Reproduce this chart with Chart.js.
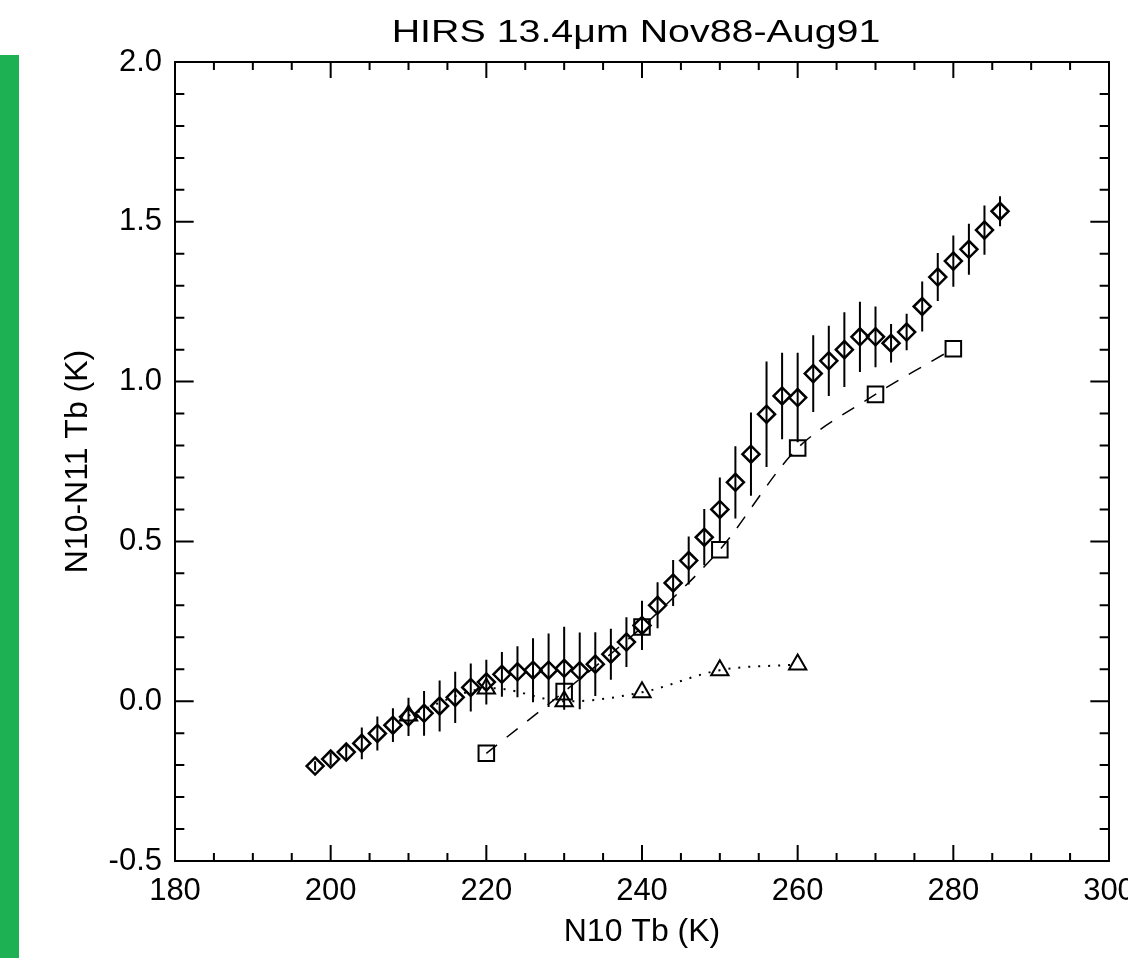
<!DOCTYPE html>
<html>
<head>
<meta charset="utf-8">
<script src="https://cdn.jsdelivr.net/npm/chart.js@4.4.0/dist/chart.umd.min.js"></script>
<style>
  html, body { margin: 0; padding: 0; background: #fff; overflow: hidden; }
  #wrap { position: absolute; left: 0; top: 0; width: 1160px; height: 958px; }
  #faixa { position: absolute; left: 0; top: 55px; width: 19px; height: 903px; background: #1db154; }
</style>
</head>
<body>
<div id="wrap"><canvas id="grafico"></canvas></div>
<div id="faixa"></div>
<script>
// N10 Tb (K) e diferença N10-N11 com barra de erro (losangos)
const temperaturas = [198, 200, 202, 204, 206, 208, 210, 212, 214, 216, 218, 220, 222, 224, 226, 228, 230, 232, 234, 236, 238, 240,
  242, 244, 246, 248, 250, 252, 254, 256, 258, 260, 262, 264, 266, 268, 270, 272, 274, 276, 278, 280, 282, 284, 286];
const diferencas = [-0.203, -0.181, -0.159, -0.132, -0.101, -0.075, -0.049, -0.038, -0.015, 0.012, 0.043, 0.060, 0.084, 0.092,
  0.097, 0.097, 0.103, 0.095, 0.116, 0.147, 0.185, 0.237, 0.300, 0.370, 0.440, 0.513, 0.600, 0.685, 0.773, 0.898, 0.955, 0.950,
  1.025, 1.065, 1.100, 1.140, 1.140, 1.120, 1.155, 1.235, 1.327, 1.377, 1.414, 1.474, 1.533];
const erros = [0.015, 0.020, 0.025, 0.050, 0.053, 0.053, 0.060, 0.070, 0.080, 0.080, 0.075, 0.070, 0.070, 0.080, 0.100, 0.115,
  0.130, 0.120, 0.100, 0.080, 0.078, 0.077, 0.072, 0.072, 0.075, 0.088, 0.100, 0.113, 0.130, 0.165, 0.135, 0.140, 0.120, 0.110,
  0.117, 0.110, 0.095, 0.060, 0.057, 0.078, 0.075, 0.080, 0.080, 0.077, 0.047];

// quadrados (tracejado)
const tempQuadrados = [220, 230, 240, 250, 260, 270, 280];
const difQuadrados = [-0.163, 0.030, 0.232, 0.474, 0.792, 0.960, 1.103];

// triângulos (pontilhado)
const tempTriangulos = [210, 220, 230, 240, 250, 260];
const difTriangulos = [-0.045, 0.040, 0.000, 0.028, 0.097, 0.115];

// eixos
const eixoX = { min: 180, max: 300, passo: 20, menor: 5 };
const eixoY = { min: -0.5, max: 2.0, passo: 0.5, menor: 0.1 };
const textoTitulo = 'HIRS 13.4μm Nov88-Aug91';

const pares = (xs, ys) => xs.map((v, i) => ({ x: v, y: ys[i] }));
const fonte = "'Liberation Sans', Arial, Helvetica, sans-serif";

Chart.defaults.font.family = fonte;
Chart.defaults.color = '#000';

// barras de erro verticais
const barrasErro = {
  id: 'barrasErro',
  afterDatasetsDraw(chart) {
    const { ctx, scales: { x, y } } = chart;
    ctx.save();
    ctx.strokeStyle = '#000';
    ctx.lineWidth = 2;
    ctx.beginPath();
    temperaturas.forEach((t, i) => {
      const px = x.getPixelForValue(t);
      ctx.moveTo(px, y.getPixelForValue(diferencas[i] - erros[i]));
      ctx.lineTo(px, y.getPixelForValue(diferencas[i] + erros[i]));
    });
    ctx.stroke();
    ctx.restore();
  }
};

// moldura com marcas para dentro nos quatro lados
const moldura = {
  id: 'moldura',
  afterDraw(chart) {
    const { ctx, chartArea: a, scales: { x, y } } = chart;
    const altura = a.bottom - a.top, largura = a.right - a.left;
    const tx = 0.02 * altura, ty = 0.02 * largura;
    ctx.save();
    ctx.strokeStyle = '#000';
    ctx.lineWidth = 2;
    ctx.strokeRect(a.left, a.top, largura, altura);
    ctx.beginPath();
    const nx = Math.round((eixoX.max - eixoX.min) / eixoX.menor);
    const rx = Math.round(eixoX.passo / eixoX.menor);
    for (let k = 1; k < nx; k++) {
      const px = x.getPixelForValue(eixoX.min + k * eixoX.menor);
      const len = k % rx === 0 ? tx : tx / 2;
      ctx.moveTo(px, a.bottom); ctx.lineTo(px, a.bottom - len);
      ctx.moveTo(px, a.top); ctx.lineTo(px, a.top + len);
    }
    const ny = Math.round((eixoY.max - eixoY.min) / eixoY.menor);
    const ry = Math.round(eixoY.passo / eixoY.menor);
    for (let k = 1; k < ny; k++) {
      const py = y.getPixelForValue(eixoY.min + k * eixoY.menor);
      const len = k % ry === 0 ? ty : ty / 2;
      ctx.moveTo(a.left, py); ctx.lineTo(a.left + len, py);
      ctx.moveTo(a.right, py); ctx.lineTo(a.right - len, py);
    }
    ctx.stroke();

    // título, um pouco alargado como no original
    ctx.font = '32px ' + fonte;
    ctx.fillStyle = '#000';
    ctx.textAlign = 'center';
    ctx.textBaseline = 'alphabetic';
    ctx.translate((a.left + a.right) / 2 - 6, 42);
    ctx.scale(1.23, 1);
    ctx.fillText(textoTitulo, 0, 0);
    ctx.restore();
  }
};

const ctx = document.getElementById('grafico').getContext('2d');
const grafico = new Chart(ctx, {
  type: 'scatter',
  data: {
    datasets: [{
      label: 'N10-N11',
      data: pares(temperaturas, diferencas),
      showLine: false,
      pointStyle: 'rectRot',
      pointRadius: 8.5,
      pointBorderWidth: 2.5,
      pointBorderColor: '#000',
      pointBackgroundColor: 'rgba(0,0,0,0)'
    }, {
      label: 'quadrados',
      data: pares(tempQuadrados, difQuadrados),
      showLine: true,
      tension: 0.3,
      borderColor: '#000',
      borderWidth: 1.5,
      borderDash: [14, 12],
      pointStyle: 'rect',
      pointRadius: 11,
      pointBorderWidth: 2,
      pointBorderColor: '#000',
      pointBackgroundColor: 'rgba(0,0,0,0)'
    }, {
      label: 'triangulos',
      data: pares(tempTriangulos, difTriangulos),
      showLine: true,
      tension: 0.35,
      borderColor: '#000',
      borderWidth: 2,
      borderDash: [2, 8],
      pointStyle: 'triangle',
      pointRadius: 10,
      pointBorderWidth: 2,
      pointBorderColor: '#000',
      pointBackgroundColor: 'rgba(0,0,0,0)'
    }]
  },
  options: {
    responsive: true,
    maintainAspectRatio: false,
    animation: false,
    events: [],
    layout: { padding: { left: 0, right: 51, top: 62, bottom: 0 } },
    scales: {
      x: {
        type: 'linear',
        min: eixoX.min,
        max: eixoX.max,
        grid: { display: false, drawTicks: false },
        border: { display: false },
        ticks: { stepSize: eixoX.passo, font: { size: 31 }, padding: 12, maxRotation: 0, autoSkip: false },
        title: { display: true, text: 'N10 Tb (K)', font: { size: 32 }, padding: { top: 0, bottom: 7 } },
        afterFit(s) { s.height = 97; }
      },
      y: {
        type: 'linear',
        min: eixoY.min,
        max: eixoY.max,
        grid: { display: false, drawTicks: false },
        border: { display: false },
        ticks: { stepSize: eixoY.passo, font: { size: 31 }, padding: 13, callback: v => v.toFixed(1) },
        title: { display: true, text: 'N10-N11 Tb (K)', font: { size: 32 }, padding: { top: 59, bottom: 0 } },
        afterFit(s) { s.width = 175; }
      }
    },
    plugins: {
      legend: { display: false },
      tooltip: { enabled: false },
      title: { display: false }
    }
  },
  plugins: [barrasErro, moldura]
});
</script>
</body>
</html>
